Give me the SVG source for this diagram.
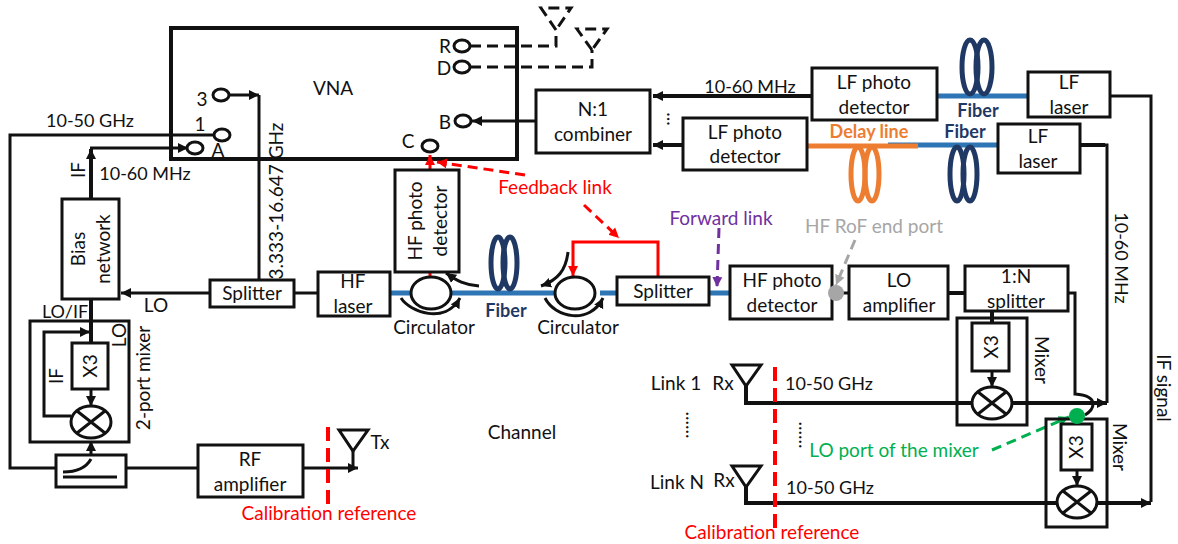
<svg xmlns="http://www.w3.org/2000/svg" width="1178" height="544" viewBox="0 0 1178 544">
<style>
text{font-family:"Lato","Liberation Sans",sans-serif;font-size:19px;fill:#111;text-anchor:middle}
.s{font-size:18px}
.b{fill:#fff;stroke:#111;stroke-width:3}
.h{fill:none;stroke:#111;stroke-width:3}
.n{fill:none;stroke:#111;stroke-width:3}
.t{fill:none;stroke:#111;stroke-width:4}
.p{fill:#fff;stroke:#111;stroke-width:3}
.d{fill:none;stroke:#111;stroke-width:3;stroke-dasharray:11 6}
.f{fill:none;stroke:#2e75b6;stroke-width:5}
.c{fill:none;stroke:#1f3864;stroke-width:5}
.o{fill:none;stroke:#ed7d31;stroke-width:5}
.r{fill:none;stroke:#f00;stroke-width:3}
.rd{fill:none;stroke:#f00;stroke-width:3;stroke-dasharray:10 6}
.red{fill:#f00}.fb{fill:#1f3864;font-weight:700;font-size:18px}.fo{fill:#ed7d31;font-weight:700;font-size:18px}
</style>
<defs>
<marker id="a" markerUnits="userSpaceOnUse" markerWidth="11" markerHeight="11" refX="10" refY="5.5" orient="auto"><path d="M0 0.5L10 5.5L0 10.5z" fill="#111"/></marker>
<marker id="ar" markerUnits="userSpaceOnUse" markerWidth="11" markerHeight="11" refX="10" refY="5.5" orient="auto"><path d="M0 0.5L10 5.5L0 10.5z" fill="#f00"/></marker>
<marker id="ap" markerUnits="userSpaceOnUse" markerWidth="11" markerHeight="11" refX="10" refY="5.5" orient="auto"><path d="M0 0.5L10 5.5L0 10.5z" fill="#7030a0"/></marker>
<marker id="ag" markerUnits="userSpaceOnUse" markerWidth="11" markerHeight="11" refX="10" refY="5.5" orient="auto"><path d="M0 0.5L10 5.5L0 10.5z" fill="#a6a6a6"/></marker>
<marker id="agr" markerUnits="userSpaceOnUse" markerWidth="11" markerHeight="11" refX="10" refY="5.5" orient="auto"><path d="M0 0.5L10 5.5L0 10.5z" fill="#00b050"/></marker>
</defs>

<g id="vna"><rect class="b" x="171" y="28" width="346" height="131" style="stroke-width:4"/><text x="333" y="95">VNA</text></g>

<g id="fibers">
<path class="f" d="M390 293H582M600 293H617M709 293H730"/>
<path class="f" d="M937 96H1028M888 145H998"/>
<path class="o" d="M808 146H918"/>
<ellipse class="c" cx="498" cy="263" rx="7" ry="26"/><ellipse class="c" cx="510" cy="263" rx="7" ry="26"/>
<ellipse class="c" cx="970" cy="67" rx="8" ry="27"/><ellipse class="c" cx="984" cy="67" rx="8" ry="27"/>
<ellipse class="c" cx="957" cy="174" rx="7" ry="27"/><ellipse class="c" cx="970" cy="174" rx="7" ry="27"/>
<ellipse class="o" cx="858" cy="174" rx="7" ry="27"/><ellipse class="o" cx="872" cy="174" rx="7" ry="27"/>
<text class="fb" x="506" y="317">Fiber</text><text class="fb" x="978" y="117">Fiber</text><text class="fb" x="965" y="138">Fiber</text><text class="fo" x="869" y="138">Delay line</text>
</g>

<g id="connectors">
<path class="n" d="M214 135H10V468H56M126 468H198"/>
<path class="n" d="M353 451V468"/>
<path class="n" d="M303 468H358" marker-end="url(#a)"/>
<path class="n" d="M91 455V441" marker-end="url(#a)"/>
<path class="t" d="M91 199V149" marker-end="url(#a)"/>
<path class="n" d="M90 148H188" marker-end="url(#a)"/>
<path class="n" d="M229 95H259" marker-end="url(#a)"/>
<path class="n" d="M259 95V280"/>
<path class="t" d="M91 299V343"/>
<path class="n" d="M71 416H44V332H90" marker-end="url(#a)"/>
<path class="n" d="M91 389V406" marker-end="url(#a)"/>
<path class="n" d="M210 293H121" marker-end="url(#a)"/>
<path class="n" d="M294 293H318"/>
<path class="d" d="M470 46H556V30M470 67H592V50"/>
<path class="d" d="M556 30L541 8H571ZM592 50L577 29H607Z"/>
<path class="n" d="M536 121H472" marker-end="url(#a)"/>
<path class="t" d="M812 96H653" marker-end="url(#a)"/>
<path class="t" d="M683 145H653" marker-end="url(#a)"/>
<path class="n" d="M1110 96H1151V502"/>
<path class="t" d="M1080 145H1105"/>
<path class="n" d="M1105 145H1107V403"/>
<path class="n" d="M832 293H849"/>
<path class="t" d="M948 293H965"/>
<path class="n" d="M1068 293H1075V394C1087 395 1093 399 1093 404C1093 409 1090 412 1085 415"/>
<path class="t" d="M992 311V323"/>
<path class="n" d="M992 371V387" marker-end="url(#a)"/>
<path class="n" d="M1077 416V424"/>
<path class="n" d="M1077 470V486" marker-end="url(#a)"/>
<path class="t" d="M746 386V403H1107" marker-end="url(#a)"/>
<path class="t" d="M746 487V503H1151" marker-end="url(#a)"/>
<path class="n" d="M732 365H761L746 386ZM732 466H761L746 487ZM339 430H368L353 451Z"/>
<path class="n" d="M401 298C410 312 445 325 460 298" marker-end="url(#a)"/>
<path class="n" d="M479 286C465 285 457 281 446 273" marker-end="url(#a)"/>
<path class="n" d="M568 252C566 270 558 280 541 286" marker-end="url(#a)"/>
<path class="n" d="M545 298C555 318 590 325 603 298" marker-end="url(#a)"/>
<path class="r" d="M430 170V155" marker-end="url(#ar)"/>
<path class="r" d="M430 272V277"/>
<path class="r" d="M658 277V242H573V276" marker-end="url(#ar)"/>
<path class="rd" d="M525 175L437 162" marker-end="url(#ar)"/>
<path class="rd" d="M584 205L619 238" marker-end="url(#ar)"/>
<path d="M719 228L717 287" fill="none" stroke="#7030a0" stroke-width="3" stroke-dasharray="10 6" marker-end="url(#ap)"/>
<path d="M855 240L836 285" fill="none" stroke="#a6a6a6" stroke-width="3" stroke-dasharray="10 6" marker-end="url(#ag)"/>
<path d="M992 450L1069 417" fill="none" stroke="#00b050" stroke-width="3" stroke-dasharray="10 6" marker-end="url(#agr)"/>
<path d="M328 427V505M775 367V528" fill="none" stroke="#f00" stroke-width="4" stroke-dasharray="14 7"/>
</g>

<g id="ports">
<ellipse class="p" cx="221" cy="95" rx="8" ry="6"/><ellipse class="p" cx="222" cy="135" rx="8" ry="6"/><ellipse class="p" cx="195" cy="148" rx="8" ry="6"/>
<ellipse class="p" cx="430" cy="146" rx="8" ry="6"/><ellipse class="p" cx="463" cy="121" rx="8" ry="6"/><ellipse class="p" cx="462" cy="46" rx="8" ry="6"/><ellipse class="p" cx="462" cy="67" rx="8" ry="6"/>
<text x="202" y="106">3</text><text x="200" y="131">1</text><text x="218" y="157">A</text><text x="408" y="148">C</text><text x="445" y="129">B</text><text x="445" y="53">R</text><text x="444" y="75">D</text>
</g>

<g id="bias"><rect class="b" x="62" y="199" width="57" height="100"/><text transform="translate(85 249) rotate(-90)">Bias</text><text transform="translate(110 249) rotate(-90)">network</text></g>
<g id="mixer-2port"><rect class="h" x="30" y="321" width="99" height="121"/><rect class="b" x="72" y="343" width="36" height="46"/><text transform="translate(97 366) rotate(-90)">X3</text>
<ellipse class="b" cx="91" cy="422" rx="20" ry="16"/><path class="n" d="M77 411L105 433M105 411L77 433"/></g>
<g id="coupler"><rect class="b" x="56" y="455" width="70" height="32"/><path class="n" d="M63 477H117M63 472C75 472 86 468 91 459"/></g>
<g id="rf-amp"><rect class="b" x="198" y="445" width="105" height="52"/><text x="250" y="466">RF</text><text x="250" y="491">amplifier</text></g>
<g id="splitter-lo"><rect class="b" x="210" y="280" width="84" height="27"/><text x="252" y="300">Splitter</text></g>
<g id="hf-laser"><rect class="b" x="318" y="272" width="72" height="44"/><text x="353" y="288">HF</text><text x="353" y="313">laser</text></g>
<g id="hf-pd-v"><rect class="b" x="395" y="170" width="64" height="102"/><text transform="translate(422 221) rotate(-90)">HF photo</text><text transform="translate(447 221) rotate(-90)">detector</text></g>
<g id="circ1"><ellipse class="b" cx="431" cy="293" rx="20" ry="16"/><text x="434" y="334">Circulator</text></g>
<g id="circ2"><ellipse class="b" cx="575" cy="293" rx="20" ry="16"/><text x="578" y="334">Circulator</text></g>
<g id="combiner"><rect class="b" x="536" y="90" width="114" height="63"/><text x="593" y="116">N:1</text><text x="593" y="141">combiner</text></g>
<g id="lf-pd2"><rect class="b" x="683" y="118" width="124" height="52"/><text x="745" y="139">LF photo</text><text x="745" y="163">detector</text></g>
<g id="lf-pd1"><rect class="b" x="812" y="68" width="125" height="52"/><text x="874" y="89">LF photo</text><text x="874" y="114">detector</text></g>
<g id="lf-laser1"><rect class="b" x="1028" y="72" width="82" height="45"/><text x="1069" y="89">LF</text><text x="1069" y="114">laser</text></g>
<g id="lf-laser2"><rect class="b" x="998" y="124" width="82" height="49"/><text x="1038" y="143">LF</text><text x="1038" y="168">laser</text></g>
<g id="splitter-f"><rect class="b" x="617" y="277" width="92" height="28"/><text x="663" y="298">Splitter</text></g>
<g id="hf-pd"><rect class="b" x="730" y="266" width="102" height="53"/><text x="782" y="287">HF photo</text><text x="782" y="312">detector</text></g>
<g id="gray-port"><circle cx="836" cy="293" r="8" fill="#a6a6a6"/></g>
<g id="lo-amp"><rect class="b" x="849" y="266" width="99" height="53"/><text x="899" y="287">LO</text><text x="899" y="312">amplifier</text></g>
<g id="splitter-1n"><rect class="b" x="965" y="266" width="103" height="45"/><text x="1016" y="283">1:N</text><text x="1016" y="308">splitter</text></g>
<g id="mixer1"><rect class="h" x="957" y="318" width="70" height="107"/><rect class="b" x="972" y="323" width="37" height="48"/><text transform="translate(998 347) rotate(-90)">X3</text>
<ellipse class="b" cx="992" cy="403" rx="20" ry="16"/><path class="n" d="M978 392L1006 414M1006 392L978 414"/></g>
<g id="mixer2"><rect class="h" x="1046" y="419" width="61" height="108"/><rect class="b" x="1061" y="424" width="31" height="46"/><text transform="translate(1083 447) rotate(-90)">X3</text>
<ellipse class="b" cx="1077" cy="502" rx="20" ry="16"/><path class="n" d="M1063 491L1091 513M1091 491L1063 513"/></g>
<g id="green-port"><circle cx="1077" cy="416" r="8" fill="#00b050"/></g>

<g id="labels">
<text class="s" x="90" y="127">10-50 GHz</text><text class="s" x="145" y="180">10-60 MHz</text>
<text transform="translate(85 170) rotate(-90)">IF</text>
<text transform="translate(283 201) rotate(-90)">3.333-16.647 GHz</text>
<text x="156" y="312">LO</text><text class="s" x="65" y="318">LO/IF</text>
<text transform="translate(126 335) rotate(-90)">LO</text><text transform="translate(63 376) rotate(-90)">IF</text>
<text transform="translate(150 378) rotate(-90)">2-port mixer</text>
<text x="380" y="449">Tx</text>
<text class="red" x="329" y="520">Calibration reference</text>
<text class="red" x="772" y="539">Calibration reference</text>
<text class="red" x="555" y="194">Feedback link</text>
<text x="721" y="225" style="fill:#7030a0">Forward link</text>
<text x="874" y="233" style="fill:#a6a6a6">HF RoF end port</text>
<text x="522" y="439">Channel</text>
<text class="s" x="750" y="93">10-60 MHz</text>
<text class="s" transform="translate(1115 258) rotate(90)">10-60 MHz</text>
<text transform="translate(1157 388) rotate(90)">IF signal</text>
<text transform="translate(1035 360) rotate(90)">Mixer</text>
<text transform="translate(1113 447) rotate(90)">Mixer</text>
<text x="676" y="390">Link 1</text><text x="677" y="489">Link N</text>
<text x="723" y="390">Rx</text><text x="724" y="487">Rx</text>
<text class="s" x="829" y="390">10-50 GHz</text><text class="s" x="830" y="494">10-50 GHz</text>
<text x="894" y="457" style="fill:#00b050">LO port of the mixer</text>
<text transform="translate(667 119) rotate(90)">...</text>
<text transform="translate(686 425) rotate(90)">......</text>
<text transform="translate(799 435) rotate(90)">......</text>
</g>
</svg>
